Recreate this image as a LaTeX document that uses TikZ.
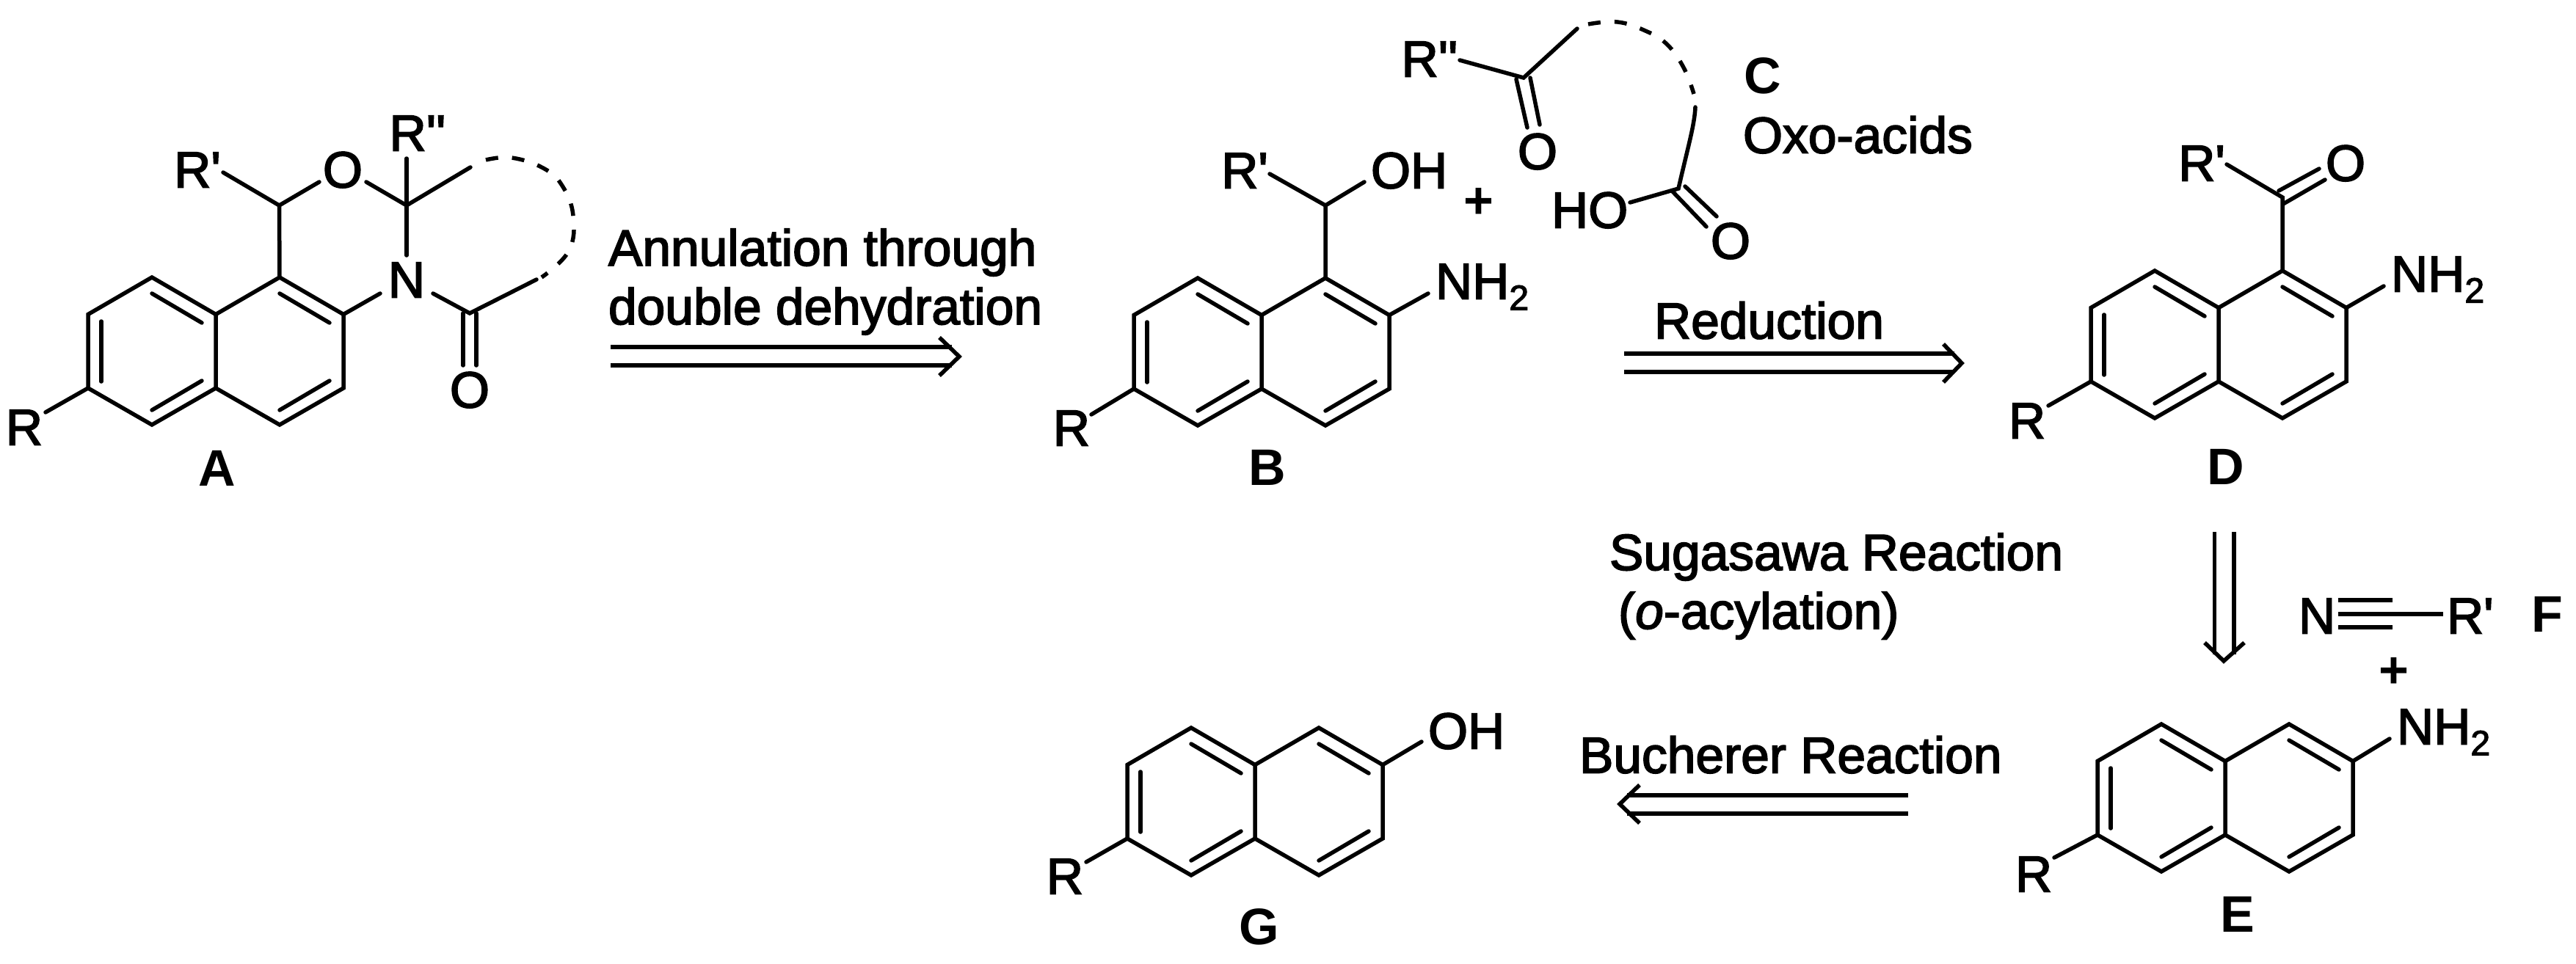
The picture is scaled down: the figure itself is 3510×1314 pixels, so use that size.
\documentclass[tikz,border=0pt]{standalone}
\usepackage{fontspec}
\newfontfamily\arialf[FakeBold=2.5]{Liberation Sans}
\newfontfamily\arialb{Liberation Sans}
\tikzset{
  bond/.style={line width=5.5pt,line cap=round,line join=miter,black},
  arr/.style={line width=5.5pt,line cap=butt,line join=miter,black},
  dashbond/.style={line width=5.5pt,line cap=butt,dash pattern=on 17pt off 19pt,black},
  lab/.style={inner sep=0pt,outer sep=0pt,text height=49pt,text depth=0pt,font=\arialf\fontsize{69.5}{80}\selectfont},
  tag/.style={lab,font=\arialb\bfseries\fontsize{70}{80}\selectfont},
}
\newcommand{\subtwo}{\raisebox{-15pt}{\fontsize{48}{48}\selectfont 2}}
% naphthalene skeleton: #1 prefix, (#2,#3) top vertex of the left ring
\newcommand{\naph}[3]{%
  \coordinate (#1t) at (#2,#3);
  \coordinate (#1ul) at (#2-87,#3+50.5);
  \coordinate (#1ll) at (#2-87,#3+151);
  \coordinate (#1b) at (#2,#3+201);
  \coordinate (#1um) at (#2+87,#3+50.5);
  \coordinate (#1lm) at (#2+87,#3+151);
  \coordinate (#1T) at (#2+174,#3);
  \coordinate (#1B) at (#2+174,#3+201);
  \coordinate (#1ur) at (#2+261,#3+50.5);
  \coordinate (#1lr) at (#2+261,#3+151);
  \coordinate (#1i1) at (#2-69,#3+60);
  \coordinate (#1i2) at (#2-69,#3+142);
  \coordinate (#1i3) at (#2,#3+22);
  \coordinate (#1i4) at (#2+68,#3+62);
  \coordinate (#1i5) at (#2,#3+181);
  \coordinate (#1i6) at (#2+68,#3+141);
  \coordinate (#1i7) at (#2+174,#3+22);
  \coordinate (#1i8) at (#2+242,#3+62);
  \coordinate (#1i9) at (#2+174,#3+181);
  \coordinate (#1i0) at (#2+242,#3+141);
  \draw[bond] (#1t) -- (#1ul) -- (#1ll) -- (#1b) -- (#1lm) -- (#1um) -- cycle;
  \draw[bond] (#1um) -- (#1T) -- (#1ur) -- (#1lr) -- (#1B) -- (#1lm);
  \draw[bond] (#1i1) -- (#1i2);
  \draw[bond] (#1i3) -- (#1i4);
  \draw[bond] (#1i5) -- (#1i6);
  \draw[bond] (#1i7) -- (#1i8);
  \draw[bond] (#1i9) -- (#1i0);
}
\begin{document}
\begin{tikzpicture}[x=1pt,y=-1pt]
\path[use as bounding box,fill=white] (0,0) rectangle (3510,1314);

% ---------- A
\naph{a}{207}{378}
\coordinate (aC1) at (380.5,280);
\coordinate (aC2) at (554,280);
\coordinate (aC3) at (640,427);
\coordinate (aRb) at (304,235);
\coordinate (aOl) at (435,248);
\coordinate (aOr) at (499,248);
\coordinate (aRRb) at (554,216);
\coordinate (aDs) at (641,228);
\coordinate (aNt) at (554,348);
\coordinate (aNl) at (518,400);
\coordinate (aNr) at (590,400);
\coordinate (aCe) at (731,381);
\coordinate (aO1) at (631,427);
\coordinate (aO2) at (631,498);
\coordinate (aO3) at (649,427);
\coordinate (aO4) at (649,498);
\coordinate (aR0) at (62,562);
\draw[bond] (aT) -- (aC1) -- (aOl);
\draw[bond] (aC1) -- (aRb);
\draw[bond] (aOr) -- (aC2) -- (aDs);
\draw[bond] (aRRb) -- (aC2) -- (aNt);
\draw[bond] (aur) -- (aNl);
\draw[bond] (aNr) -- (aC3) -- (aCe);
\draw[bond] (aO1) -- (aO2);
\draw[bond] (aO3) -- (aO4);
\draw[bond] (all) -- (aR0);
\draw[dashbond] plot[smooth,tension=.7] coordinates {(662,218) (697,215) (740,229) (766,253) (781,294) (775,342) (738,378)};
\node[lab] (aR) at (33,582) {R};
\node[lab] (aRp) at (269,231) {R'};
\node[lab] (aO) at (467,231) {O};
\node[lab] (aRR) at (569,181) {R''};
\node[lab] (aN) at (554,381) {N};
\node[lab] (aOd) at (640,531) {O};
\node[tag] (aL) at (296,638) {A};

% ---------- arrow A to B
\coordinate (r1a) at (832,473);
\coordinate (r1b) at (1297,473);
\coordinate (r1c) at (832,498);
\coordinate (r1d) at (1297,498);
\coordinate (r1e) at (1280,460);
\coordinate (r1t) at (1307,486);
\coordinate (r1f) at (1280,512);
\draw[arr] (r1a) -- (r1b);
\draw[arr] (r1c) -- (r1d);
\draw[arr] (r1e) -- (r1t) -- (r1f);
\node[lab,anchor=west] (r1L) at (829,337.5) {Annulation through};
\node[lab,anchor=west] (r1M) at (829,417.5) {double dehydration};

% ---------- B
\naph{b}{1632}{379}
\coordinate (bC) at (1806,280);
\coordinate (bRb) at (1730,237);
\coordinate (bOb) at (1859,248);
\coordinate (bNb) at (1946,400);
\coordinate (bR0) at (1487,565);
\draw[bond] (bT) -- (bC) -- (bRb);
\draw[bond] (bC) -- (bOb);
\draw[bond] (bur) -- (bNb);
\draw[bond] (bll) -- (bR0);
\node[lab] (bR) at (1460,583) {R};
\node[lab] (bRp) at (1696,232) {R'};
\node[lab,anchor=west] (bOH) at (1868,232) {OH};
\node[lab,anchor=west] (bNH) at (1956,383) {NH\subtwo};
\node[tag] (bL) at (1727,637) {B};
\node[tag] (bplus) at (2015,273) {+};

% ---------- C
\coordinate (cC1) at (2076,106);
\coordinate (cRb) at (1989,82);
\coordinate (cDs) at (2149,39);
\coordinate (cO1) at (2066,108);
\coordinate (cO2) at (2081,174);
\coordinate (cO3) at (2085,106);
\coordinate (cO4) at (2098,170);
\coordinate (cSs) at (2310,146);
\coordinate (cC2) at (2287,257);
\coordinate (cHb) at (2221,276);
\coordinate (cP1) at (2279,261);
\coordinate (cP2) at (2325,309);
\coordinate (cP3) at (2296,254);
\coordinate (cP4) at (2339,295);
\draw[bond] (cRb) -- (cC1) -- (cDs);
\draw[bond] (cO1) -- (cO2);
\draw[bond] (cO3) -- (cO4);
\draw[bond] (cSs) .. controls (2309,170) and (2300,200) .. (cC2) -- (cHb);
\draw[bond] (cP1) -- (cP2);
\draw[bond] (cP3) -- (cP4);
\draw[dashbond] plot[smooth,tension=.7] coordinates {(2164,33) (2204,30) (2242,42) (2271,60) (2294,92) (2308,128)};
\node[lab] (cRR) at (1948,80) {R''};
\node[lab] (cO) at (2095,206) {O};
\node[lab,anchor=west] (cHO) at (2114,286) {HO};
\node[lab] (cOb) at (2358,328) {O};
\node[tag] (cL) at (2402,103) {C};
\node[lab,anchor=west] (cT) at (2375,184) {Oxo-acids};

% ---------- arrow B to D
\coordinate (r2a) at (2213,482);
\coordinate (r2b) at (2663,482);
\coordinate (r2c) at (2213,507);
\coordinate (r2d) at (2663,507);
\coordinate (r2e) at (2648,469);
\coordinate (r2t) at (2673,495);
\coordinate (r2f) at (2648,521);
\draw[arr] (r2a) -- (r2b);
\draw[arr] (r2c) -- (r2d);
\draw[arr] (r2e) -- (r2t) -- (r2f);
\node[lab,anchor=west] (r2L) at (2254,437) {Reduction};

% ---------- D
\naph{d}{2936}{369}
\coordinate (dC) at (3110,269);
\coordinate (dRb) at (3034,224);
\coordinate (dO1) at (3105,260);
\coordinate (dO2) at (3160,230);
\coordinate (dO3) at (3111,278);
\coordinate (dO4) at (3168,245);
\coordinate (dNb) at (3248,390);
\coordinate (dR0) at (2791,553);
\draw[bond] (dT) -- (dC) -- (dRb);
\draw[bond] (dO1) -- (dO2);
\draw[bond] (dO3) -- (dO4);
\draw[bond] (dur) -- (dNb);
\draw[bond] (dll) -- (dR0);
\node[lab] (dR) at (2762,573) {R};
\node[lab] (dRp) at (3000,222) {R'};
\node[lab] (dO) at (3196,222) {O};
\node[lab,anchor=west] (dNH) at (3258,373) {NH\subtwo};
\node[tag] (dL) at (3033,636) {D};

% ---------- arrow D to E
\coordinate (r3a) at (3017.5,725);
\coordinate (r3b) at (3017.5,892);
\coordinate (r3c) at (3044,725);
\coordinate (r3d) at (3044,892);
\coordinate (r3e) at (3004,876);
\coordinate (r3t) at (3030,901);
\coordinate (r3f) at (3058,876);
\draw[arr] (r3a) -- (r3b);
\draw[arr] (r3c) -- (r3d);
\draw[arr] (r3e) -- (r3t) -- (r3f);
\node[lab,anchor=west] (r3L) at (2193,752.5) {Sugasawa Reaction};
\node[lab,anchor=west] (r3M) at (2205,832.5) {(\textit{o}-acylation)};

% ---------- F
\coordinate (f1) at (3186,818);
\coordinate (f2) at (3260,818);
\coordinate (f3) at (3186,837);
\coordinate (f4) at (3329,837);
\coordinate (f5) at (3186,855);
\coordinate (f6) at (3260,855);
\draw[bond,line cap=butt] (f1) -- (f2);
\draw[bond,line cap=butt] (f3) -- (f4);
\draw[bond,line cap=butt] (f5) -- (f6);
\node[lab] (fN) at (3157,839) {N};
\node[lab,anchor=west] (fR) at (3334,839) {R'};
\node[tag,anchor=west] (fL) at (3449,837) {F};
\node[tag] (fplus) at (3262,913) {+};

% ---------- E
\naph{e}{2945}{987}
\coordinate (eNb) at (3256,1007);
\coordinate (eR0) at (2799,1169);
\draw[bond] (eur) -- (eNb);
\draw[bond] (ell) -- (eR0);
\node[lab] (eR) at (2771,1191) {R};
\node[lab,anchor=west] (eNH) at (3266,990) {NH\subtwo};
\node[tag] (eL) at (3049,1246) {E};

% ---------- arrow E to G
\coordinate (r4a) at (2600,1084);
\coordinate (r4b) at (2217,1084);
\coordinate (r4c) at (2600,1109);
\coordinate (r4d) at (2217,1109);
\coordinate (r4e) at (2234,1070);
\coordinate (r4t) at (2207,1096);
\coordinate (r4f) at (2234,1122);
\draw[arr] (r4a) -- (r4b);
\draw[arr] (r4c) -- (r4d);
\draw[arr] (r4e) -- (r4t) -- (r4f);
\node[lab,anchor=west] (r4L) at (2152,1029) {Bucherer Reaction};

% ---------- G
\naph{g}{1623}{992}
\coordinate (gOb) at (1937,1011);
\coordinate (gR0) at (1480,1175);
\draw[bond] (gur) -- (gOb);
\draw[bond] (gll) -- (gR0);
\node[lab] (gR) at (1451,1194) {R};
\node[lab,anchor=west] (gOH) at (1946,996) {OH};
\node[tag] (gL) at (1716,1263) {G};
\end{tikzpicture}
\end{document}
